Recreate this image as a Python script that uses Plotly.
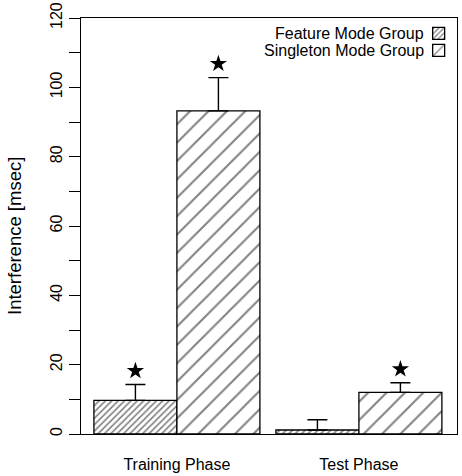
import plotly.graph_objects as go

phases = ["Training Phase", "Test Phase"]
feature_mean = [9.7, 1.15]
feature_err = [4.6, 2.95]
singleton_mean = [93.2, 12.0]
singleton_err = [9.6, 2.8]
# significance stars (None = no star)
feature_star = [18.2, None]
singleton_star = [106.8, 18.7]
series_names = ["Feature Mode Group", "Singleton Mode Group"]
y_title = "Interference [msec]"
y_ticks = [0, 10, 20, 30, 40, 50, 60, 70, 80, 90, 100, 110, 120]
y_ticklabels = [str(v) if v % 20 == 0 else "" for v in y_ticks]

FONT = "Liberation Sans, Arial, sans-serif"

fig = go.Figure()
fig.add_trace(go.Bar(
    x=phases, y=feature_mean, name="", offsetgroup="f", legend="legend",
    marker=dict(color="white", line=dict(color="black", width=1.3),
                pattern=dict(shape="/", size=4.5, solidity=0.35, fgcolor="black", bgcolor="white")),
    error_y=dict(type="data", array=feature_err, arrayminus=[0, 0], symmetric=False,
                 color="black", thickness=1.4, width=10),
))
fig.add_trace(go.Bar(
    x=phases, y=singleton_mean, name="", offsetgroup="s", legend="legend2",
    marker=dict(color="white", line=dict(color="black", width=1.3),
                pattern=dict(shape="/", size=13, solidity=0.15, fgcolor="black", bgcolor="white")),
    error_y=dict(type="data", array=singleton_err, arrayminus=[0, 0], symmetric=False,
                 color="black", thickness=1.4, width=10),
))
fig.add_trace(go.Scatter(
    x=phases, y=feature_star, mode="markers", offsetgroup="f",
    marker=dict(symbol="star", size=13, color="black"), showlegend=False,
))
fig.add_trace(go.Scatter(
    x=phases, y=singleton_star, mode="markers", offsetgroup="s",
    marker=dict(symbol="star", size=13, color="black"), showlegend=False,
))

leg_common = dict(xanchor="left", yanchor="middle", bgcolor="rgba(0,0,0,0)",
                  font=dict(size=13), itemwidth=30, borderwidth=0)
fig.update_layout(
    width=462, height=476,
    margin=dict(l=81, r=5, t=18, b=42, autoexpand=False),
    paper_bgcolor="white", plot_bgcolor="white",
    barmode="group", bargap=0.088, bargroupgap=0,
    scattermode="group",
    font=dict(family=FONT, size=16, color="black"),
    legend=dict(x=0.898, y=0.963, **leg_common),
    legend2=dict(x=0.898, y=0.922, **leg_common),
    annotations=[
        dict(text=series_names[0], xref="paper", yref="paper", x=0.917, y=0.963,
             xanchor="right", yanchor="middle", showarrow=False, font=dict(size=16)),
        dict(text=series_names[1], xref="paper", yref="paper", x=0.917, y=0.922,
             xanchor="right", yanchor="middle", showarrow=False, font=dict(size=16)),
        dict(text=y_title, xref="paper", yref="paper", x=-0.1755, y=0.476,
             xanchor="center", yanchor="middle", textangle=-90, showarrow=False,
             font=dict(size=18.5)),
    ],
)
fig.update_xaxes(
    range=[-0.527, 1.539], showline=True, linecolor="black", linewidth=1.3,
    mirror=True, ticks="", showgrid=False, zeroline=False, automargin=False,
    ticklabelstandoff=16, tickfont=dict(size=16),
)
fig.update_yaxes(
    range=[0, 120], showline=True, linecolor="black", linewidth=1.3,
    mirror=True, ticks="outside", ticklen=11, tickwidth=1.3, tickcolor="black",
    tickvals=y_ticks, ticktext=y_ticklabels, tickangle=-90, automargin=False,
    showgrid=False, zeroline=False, tickfont=dict(size=16),
)

fig.write_html("out.html")
